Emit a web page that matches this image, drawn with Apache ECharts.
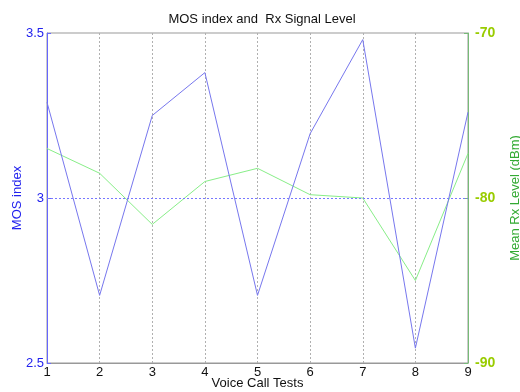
<!DOCTYPE html>
<html>
<head>
<meta charset="utf-8">
<script src="https://cdn.jsdelivr.net/npm/echarts@6/dist/echarts.min.js"></script>
<style>html,body{margin:0;padding:0;background:#fff;}#c{width:520px;height:392px;}</style>
</head>
<body>
<div id="c"></div>
<script>
var tests = [1, 2, 3, 4, 5, 6, 7, 8, 9];
var mosIndex = [3.29, 2.705, 3.25, 3.38, 2.705, 3.195, 3.48, 2.545, 3.26];
var rxLevel = [-77.0, -78.5, -81.6, -79.0, -78.2, -79.8, -80.0, -85.0, -77.3];
var mosTicks = [2.5, 3, 3.5];
var rxTicks = [-90, -80, -70];

var font = 'Liberation Sans, Arial, sans-serif';
var chart = echarts.init(document.getElementById('c'), null, {renderer: 'canvas'});
chart.setOption({
  animation: false,
  backgroundColor: '#fff',
  title: {
    text: 'MOS index and  Rx Signal Level',
    left: 257, top: 8, textAlign: 'center',
    textStyle: {fontFamily: font, fontSize: 13, fontWeight: 'normal', color: '#111'}
  },
  grid: {left: 47, right: 52, top: 33, bottom: 29, containLabel: false, outerBoundsMode: 'none',
    show: true, borderColor: '#999', borderWidth: 1, backgroundColor: 'transparent'},
  xAxis: {
    type: 'value', min: tests[0], max: tests[tests.length - 1], interval: 1,
    name: 'Voice Call Tests', nameLocation: 'middle', nameGap: 14, nameMoveOverlap: false,
    nameTextStyle: {fontFamily: font, fontSize: 13, color: '#111'},
    axisLine: {lineStyle: {color: '#999'}},
    axisTick: {show: false},
    axisLabel: {fontFamily: font, fontSize: 13, color: '#111', margin: 3},
    splitLine: {show: true, lineStyle: {type: [2, 2], color: '#b0b0b0', width: 1}}
  },
  yAxis: [{
    type: 'value', min: mosTicks[0], max: mosTicks[mosTicks.length - 1], interval: 0.5,
    position: 'left',
    name: 'MOS index', nameLocation: 'middle', nameGap: 23, nameRotate: 90, nameMoveOverlap: false,
    nameTextStyle: {fontFamily: font, fontSize: 13, color: '#2222ee'},
    axisLine: {show: true, lineStyle: {color: '#6666ff'}},
    axisTick: {show: true, inside: true, length: 4, lineStyle: {color: '#6666ff'}},
    axisLabel: {fontFamily: font, fontSize: 13, color: '#2222ee', margin: 3,
      formatter: function (v) { return String(v); }},
    splitLine: {show: false}
  }, {
    type: 'value', min: rxTicks[0], max: rxTicks[rxTicks.length - 1], interval: 10,
    position: 'right',
    name: 'Mean Rx Level (dBm)', nameLocation: 'middle', nameGap: 41, nameRotate: 90, nameMoveOverlap: false,
    nameTextStyle: {fontFamily: font, fontSize: 13, color: '#33aa33'},
    axisLine: {show: true, lineStyle: {color: '#77bb77'}},
    axisTick: {show: true, inside: true, length: 4, lineStyle: {color: '#77bb77'}},
    axisLabel: {fontFamily: font, fontSize: 14, fontWeight: 'bold', color: '#99cc00', margin: 7},
    splitLine: {show: false}
  }],
  series: [{
    type: 'line', name: 'MOS index', yAxisIndex: 0,
    data: tests.map(function (x, i) { return [x, mosIndex[i]]; }),
    symbol: 'none', lineStyle: {color: '#7777ee', width: 1},
    markLine: {
      silent: true, symbol: 'none', label: {show: false},
      lineStyle: {type: [2, 2], color: '#7777ff', width: 1},
      emphasis: {disabled: true},
      data: [{yAxis: mosTicks[1]}]
    },
    z: 3
  }, {
    type: 'line', name: 'Rx Level', yAxisIndex: 1,
    data: tests.map(function (x, i) { return [x, rxLevel[i]]; }),
    symbol: 'none', lineStyle: {color: '#88ee88', width: 1},
    z: 2
  }]
});
</script>
</body>
</html>
